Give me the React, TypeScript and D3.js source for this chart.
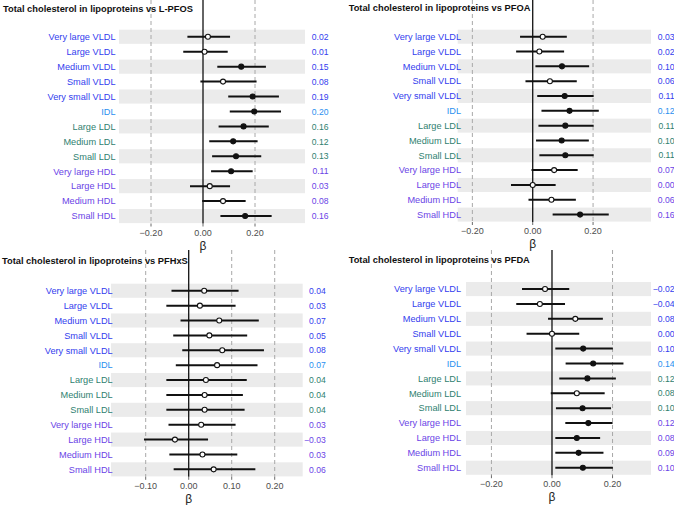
import React from "react";
import * as d3 from "d3";

const categories = [
  "Very large VLDL", "Large VLDL", "Medium VLDL", "Small VLDL", "Very small VLDL",
  "IDL", "Large LDL", "Medium LDL", "Small LDL",
  "Very large HDL", "Large HDL", "Medium HDL", "Small HDL",
];
const groups = ["VLDL", "VLDL", "VLDL", "VLDL", "VLDL", "IDL", "LDL", "LDL", "LDL", "HDL", "HDL", "HDL", "HDL"];

const titles = [
  "Total cholesterol in lipoproteins vs L-PFOS",
  "Total cholesterol in lipoproteins vs PFOA",
  "Total cholesterol in lipoproteins vs PFHxS",
  "Total cholesterol in lipoproteins vs PFDA",
];

// L-PFOS
const estPFOS = [0.019, 0.006, 0.147, 0.077, 0.191, 0.197, 0.156, 0.116, 0.127, 0.108, 0.026, 0.077, 0.162];
const loPFOS = [-0.06, -0.076, 0.055, -0.01, 0.097, 0.103, 0.06, 0.024, 0.035, 0.031, -0.05, -0.003, 0.067];
const hiPFOS = [0.104, 0.095, 0.242, 0.206, 0.292, 0.3, 0.253, 0.21, 0.224, 0.191, 0.104, 0.164, 0.264];

// PFOA
const estPFOA = [0.033, 0.022, 0.097, 0.057, 0.106, 0.122, 0.108, 0.096, 0.108, 0.071, 0.0, 0.062, 0.157];
const loPFOA = [-0.042, -0.055, 0.009, -0.024, 0.015, 0.029, 0.019, 0.011, 0.022, -0.004, -0.072, -0.014, 0.066];
const hiPFOA = [0.113, 0.104, 0.187, 0.146, 0.202, 0.219, 0.202, 0.186, 0.202, 0.149, 0.076, 0.143, 0.252];

// PFHxS
const estPFHxS = [0.036, 0.026, 0.071, 0.048, 0.078, 0.066, 0.04, 0.037, 0.037, 0.029, -0.032, 0.032, 0.058];
const loPFHxS = [-0.04, -0.052, -0.019, -0.036, -0.015, -0.03, -0.052, -0.052, -0.052, -0.047, -0.104, -0.045, -0.035];
const hiPFHxS = [0.116, 0.109, 0.163, 0.136, 0.175, 0.16, 0.135, 0.126, 0.13, 0.109, 0.045, 0.113, 0.155];

// PFDA
const estPFDA = [-0.023, -0.04, 0.077, 0.0, 0.103, 0.136, 0.117, 0.082, 0.101, 0.12, 0.082, 0.088, 0.102];
const loPFDA = [-0.099, -0.118, -0.013, -0.084, 0.011, 0.045, 0.024, -0.004, 0.013, 0.044, 0.011, 0.011, 0.011];
const hiPFDA = [0.057, 0.043, 0.168, 0.09, 0.201, 0.236, 0.211, 0.174, 0.195, 0.2, 0.159, 0.17, 0.201];

const ticksA = [-0.2, 0, 0.2];
const ticksB = [-0.1, 0, 0.1, 0.2];

const groupColor: Record<string, string> = {
  VLDL: "#3340ee",
  IDL: "#2a90f0",
  LDL: "#2f7f70",
  HDL: "#6a44e6",
};

const FONT = "'Liberation Sans', Arial, Helvetica, sans-serif";

type PanelCfg = {
  title: string;
  est: number[];
  lo: number[];
  hi: number[];
  ticks: number[];
  domain: [number, number];
  x0: number;
  x1: number;
  top: number;
  yTop: number;
  yBot: number;
  labelX: number;
  valueX: number;
  titleX: number;
  titleY: number;
};

const panels: PanelCfg[] = [
  { title: titles[0], est: estPFOS, lo: loPFOS, hi: hiPFOS, ticks: ticksA, domain: [-0.3231, 0.3923], x0: 119, x1: 305, top: 0, yTop: 29.3, yBot: 223.5, labelX: 115.5, valueX: 328.5, titleX: 3, titleY: 11.5 },
  { title: titles[1], est: estPFOA, lo: loPFOA, hi: hiPFOA, ticks: ticksA, domain: [-0.2486, 0.392], x0: 457.7, x1: 651, top: 0, yTop: 29.3, yBot: 222, labelX: 461, valueX: 674.5, titleX: 348.7, titleY: 11 },
  { title: titles[2], est: estPFHxS, lo: loPFHxS, hi: hiPFHxS, ticks: ticksB, domain: [-0.1807, 0.2651], x0: 111, x1: 302.7, top: 250, yTop: 283.3, yBot: 476.8, labelX: 112.7, valueX: 325.8, titleX: 2, titleY: 264.3 },
  { title: titles[3], est: estPFDA, lo: loPFDA, hi: hiPFDA, ticks: ticksA, domain: [-0.284, 0.327], x0: 466, x1: 651, top: 250, yTop: 281.6, yBot: 475.2, labelX: 461, valueX: 674.5, titleX: 348.7, titleY: 263 },
];

const fmt = d3.format(".2f");

function Panel({ cfg }: { cfg: PanelCfg }) {
  const x = d3.scaleLinear().domain(cfg.domain).range([cfg.x0, cfg.x1]);
  const y = d3.scaleBand<string>().domain(categories).range([cfg.yTop, cfg.yBot]).padding(0);
  const bw = y.bandwidth();
  const yc = (c: string) => (y(c) as number) + bw / 2;
  return (
    <g>
      {categories.map((c, i) =>
        i % 2 === 0 ? (
          <rect key={"b" + i} x={cfg.x0} width={cfg.x1 - cfg.x0} y={(y(c) as number) + 0.4} height={bw - 0.8} fill="#ebebeb" />
        ) : null
      )}
      {cfg.ticks.filter((t) => t !== 0).map((t) => (
        <line key={"d" + t} x1={x(t)} x2={x(t)} y1={cfg.top} y2={cfg.yBot} stroke="#a8a8a8" strokeWidth={1} strokeDasharray="4,3" />
      ))}
      <line x1={x(0)} x2={x(0)} y1={cfg.top} y2={cfg.yBot} stroke="#111" strokeWidth={1.3} />
      {cfg.ticks.map((t) => (
        <g key={"t" + t}>
          <line x1={x(t)} x2={x(t)} y1={cfg.yBot} y2={cfg.yBot + 3} stroke="#444" strokeWidth={0.8} />
          <text x={x(t)} y={cfg.yBot + 12} textAnchor="middle" fontSize={9} fill="#4d4d4d" fontFamily={FONT}>
            {fmt(t)}
          </text>
        </g>
      ))}
      <text x={x(0)} y={cfg.yBot + 26} textAnchor="middle" fontSize={12} fill="#222" fontFamily={FONT}>
        β
      </text>
      {categories.map((c, i) => {
        const filled = cfg.lo[i] > 0 || cfg.hi[i] < 0;
        const col = groupColor[groups[i]];
        return (
          <g key={"r" + i}>
            <line x1={x(cfg.lo[i])} x2={x(cfg.hi[i])} y1={yc(c)} y2={yc(c)} stroke="#111" strokeWidth={2} />
            <circle cx={x(cfg.est[i])} cy={yc(c)} r={2.5} fill={filled ? "#111" : "#fff"} stroke="#111" strokeWidth={1.1} />
            <text x={cfg.labelX} y={yc(c) + 3.3} textAnchor="end" fontSize={9.2} fill={col} fontFamily={FONT}>
              {c}
            </text>
            <text x={cfg.valueX} y={yc(c) + 3.2} textAnchor="end" fontSize={8.6} fill={col} fontFamily={FONT}>
              {fmt(cfg.est[i])}
            </text>
          </g>
        );
      })}
      <text x={cfg.titleX} y={cfg.titleY} fontSize={9.3} fontWeight="bold" fill="#111" fontFamily={FONT}>
        {cfg.title}
      </text>
    </g>
  );
}

export default function App() {
  return (
    <svg width={674} height={505} style={{ position: "absolute", left: 0, top: 0, background: "#fff" }}>
      <rect width={674} height={505} fill="#fff" />
      {panels.map((p, i) => (
        <Panel key={i} cfg={p} />
      ))}
    </svg>
  );
}
